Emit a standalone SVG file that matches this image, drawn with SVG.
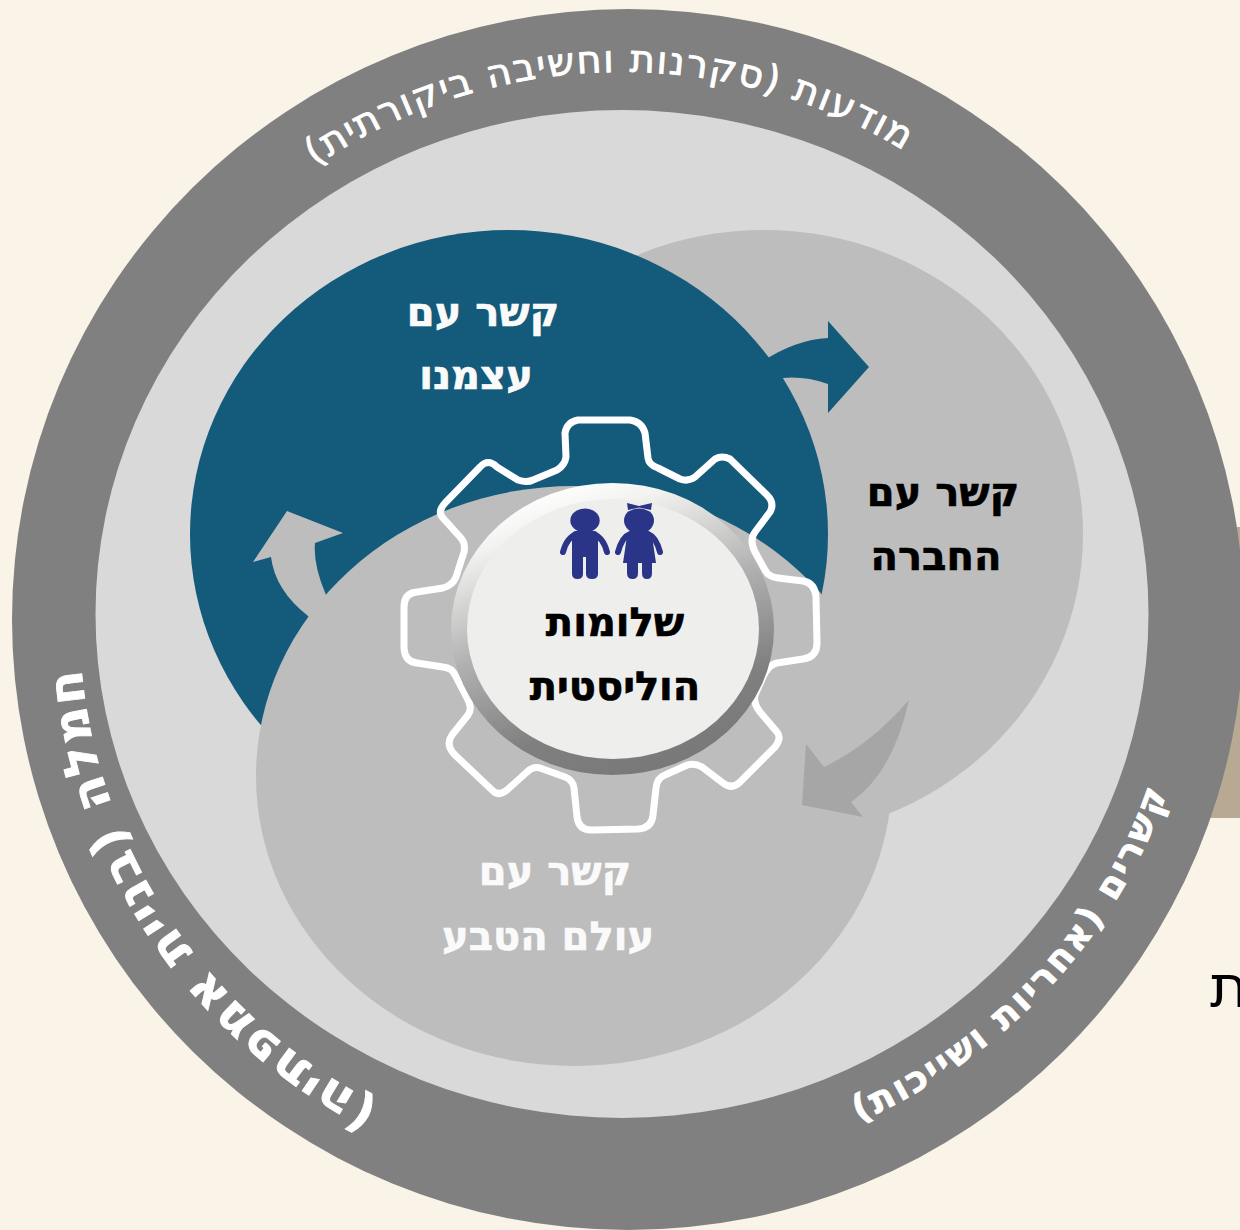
<svg xmlns="http://www.w3.org/2000/svg" width="1240" height="1230" viewBox="0 0 1240 1230">
<style>
text{font-family:"DejaVu Sans",sans-serif;direction:rtl;text-anchor:middle}
.b{font-weight:700;font-size:40px;stroke-width:0.7}
.w{fill:#fafafa;stroke:#fafafa}
.k{fill:#000;stroke:#000}
.r{fill:#fff;stroke:#fff;stroke-width:0.9;font-size:38px;letter-spacing:1.7px}
.icon{fill:#2b3587}
.arm{fill:none;stroke:#2b3587;stroke-width:6;stroke-linecap:round}
</style>
<defs>
<linearGradient id="bevel" x1="0.35" y1="0" x2="0.72" y2="1">
<stop offset="0" stop-color="#fff"/><stop offset="0.12" stop-color="#f2f2f0"/><stop offset="0.45" stop-color="#b0b0b0"/><stop offset="0.75" stop-color="#808080"/><stop offset="1" stop-color="#777"/>
</linearGradient>
<path id="pTop" d="M143.2,356.5A545 545 0 0 1 1086.9,332.6"/>
<path id="pLeft" d="M567.6,1159.3A543 543 0 0 1 99.4,471.6"/>
<path id="pRight" d="M622,1171A574 552 0 0 0 1191.5,549.8"/>
</defs>
<rect width="1240" height="1230" fill="#f9f3e8"/>
<g id="backdrop">
<rect x="1190" y="527" width="50" height="291" fill="#b8a993"/>
<text x="1210" y="1007" style="font-size:58px;text-anchor:start;direction:ltr;stroke:none" class="k">ת</text>
</g>
<g id="outer-ring">
<ellipse cx="628" cy="619.500" rx="616" ry="610.500" fill="#808080"/>
<ellipse cx="622" cy="614" rx="526.500" ry="504" fill="#d9d9d9"/>
<text class="r"><textPath href="#pTop" startOffset="50%">מודעות (סקרנות וחשיבה ביקורתית)</textPath></text>
<text class="r" style="font-weight:700;font-size:49px;letter-spacing:2.2px"><textPath href="#pLeft" startOffset="50%">חמלה (בניית אמפתיה)</textPath></text>
<text class="r" style="font-weight:700;font-size:36px;letter-spacing:2.7px"><textPath href="#pRight" startOffset="50%">קשרים (אחריות ושייכות)</textPath></text>
</g>
<g id="node-society">
<ellipse cx="764" cy="534" rx="319" ry="304" fill="#bdbdbd"/>
<text class="b k" x="943" y="506">קשר עם</text>
<text class="b k" x="936" y="570">החברה</text>
</g>
<g id="node-self">
<ellipse cx="509" cy="534" rx="319" ry="304" fill="#145a7a"/>
<text class="b w" x="483" y="326">קשר עם</text>
<text class="b w" x="476" y="389">עצמנו</text>
</g>
<g id="node-nature">
<ellipse cx="574" cy="776" rx="318" ry="290" fill="#bdbdbd"/>
<text class="b w" x="555" y="885">קשר עם</text>
<text class="b w" x="548" y="950">עולם הטבע</text>
</g>
<g id="connectors">
<path fill="#145a7a" d="M750,370Q790,340 828,338V321L869,367L828,413V384Q805,376 783,378L750,390Z"/>
<path fill="#bdbdbd" d="M287,511L343,533L315,543Q313,565 326,595L350,650L308,616Q275,590 271,557L253,562Z"/>
<path fill="#a6a6a6" d="M909,700Q870,745 824,767L806,744L802,805L863,817L851,802Q893,773 909,700Z"/>
</g>
<g id="node-center">
<path fill="none" stroke="#fff" stroke-width="7" stroke-linejoin="round" d="M565,433Q567,422 578,420L630,420Q642,422 645,433L648,458Q649,465 658,468L680,479Q688,482 695,477L715,459Q722,455 730,459L767,495Q775,503 770,512L755,532Q749,540 755,552L765,570Q768,577 778,578L803,581Q815,583 816,597L817,643Q817,657 803,659L777,663Q768,665 763,677L755,695Q753,703 760,712L777,732Q782,738 775,747L740,782Q732,790 723,783L702,767Q693,762 685,766L665,775Q657,778 656,788L653,815Q652,828 638,829L593,830Q579,831 577,817L574,788Q573,780 565,777L540,768Q533,766 527,772L507,790Q498,797 492,790L455,755Q445,745 452,735L468,715Q473,708 467,698L455,675Q452,668 443,667L417,663Q405,662 404,648L404,607Q404,593 417,592L443,588Q453,585 456,577L464,552Q466,543 460,537L443,518Q437,512 445,503L480,467Q488,458 497,467L518,480Q527,483 533,480L557,470Q565,465 566,457Z"/>
<ellipse cx="612.500" cy="629" rx="161.500" ry="146" fill="url(#bevel)"/>
<ellipse cx="613" cy="629" rx="146" ry="130" fill="#eeeeec"/>
<g id="boy">
<ellipse class="icon" cx="585" cy="520.500" rx="14.700" ry="12"/>
<path class="arm" d="M563,552Q567,537 577,534M607,552Q603,537 593,534"/>
<path class="icon" d="M576,531H594Q598,531 598,536V574Q598,579 592,579Q586,579 586,574V557H583V574Q583,579 577.500,579Q572,579 572,574V536Q572,531 576,531Z"/>
</g>
<g id="girl">
<ellipse class="icon" cx="639" cy="520.500" rx="15" ry="13"/>
<path fill="none" stroke="#eeeeec" stroke-width="1.200" d="M628,511Q639,505 650,511"/>
<path class="icon" d="M627,503L639,506L652,503L651,510L639,507.500L628,510Z"/>
<path class="arm" d="M618,552Q622,537 630,534M660,552Q656,537 648,534"/>
<path class="icon" d="M631,531H647Q651,531 652,536L656,563H623L627,536Q628,531 631,531ZM627,560H638V573Q638,579 632.500,579Q627,579 627,573ZM642,560H652V573Q652,579 647,579Q642,579 642,573Z"/>
</g>
<text class="b k" x="615" y="636">שלומות</text>
<text class="b k" x="615" y="700">הוליסטית</text>
</g>
</svg>
